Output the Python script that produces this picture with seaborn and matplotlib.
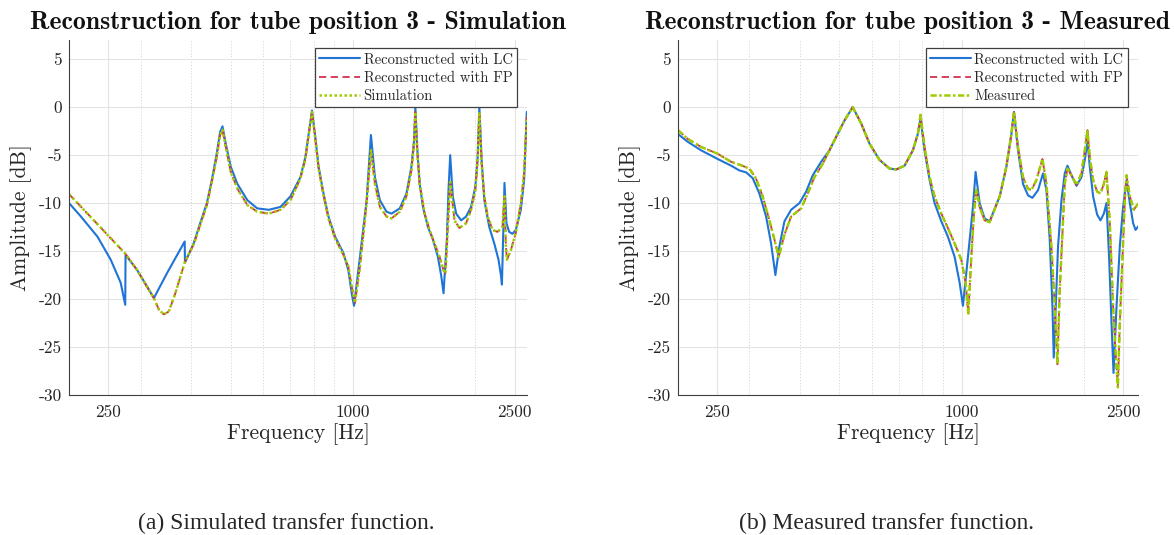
import matplotlib
matplotlib.use("Agg")
import matplotlib.pyplot as plt
import matplotlib.ticker as mticker
from matplotlib.lines import Line2D
import pandas as pd
import seaborn as sns

# ---------------- data ----------------
# (a) simulation panel
sim_lc_freq = [200, 213.9, 235, 253.3, 268, 275.0, 275.5, 294.4, 311.3, 323.5, 348.5, 385.2, 385.8,
               405.3, 420.5, 436.8, 449.2, 462, 470.8, 477.2, 486.1, 500, 519.2, 549.4, 581, 620.5,
               662.8, 701.3, 742.1, 763.2, 777.6, 792.5, 807.4, 822.6, 846, 869.9, 903.6, 946.8,
               973.8, 992.5, 1005.6, 1040, 1080, 1106.6, 1132, 1164.3, 1209, 1243.2, 1303.2, 1353.3,
               1392.1, 1412.8, 1423.6, 1439.8, 1458.8, 1486.2, 1528.6, 1572.5, 1617.4, 1648.6, 1670,
               1701.6, 1717.7, 1734.3, 1760, 1794, 1845, 1897.6, 1951.8, 2000, 2026, 2045.8, 2072.3,
               2104.3, 2164.3, 2226, 2280.4, 2311.5, 2324.8, 2345.8, 2358.8, 2385.6, 2422.2, 2467.7,
               2515.5, 2587.7, 2636.4, 2676.7]
sim_lc_db = [-10.0, -11.4, -13.5, -15.9, -18.3, -20.6, -15.4, -17.0, -18.7, -19.9, -17.3, -14.0, -16.2,
             -14.2, -12.1, -10.0, -7.6, -4.8, -2.6, -2.0, -3.8, -6.2, -8.0, -9.7, -10.55, -10.7,
             -10.4, -9.3, -7.3, -5.2, -2.8, -0.35, -3.1, -6.2, -9.0, -11.4, -13.5, -15.2,
             -17.0, -19.4, -20.7, -15.6, -9.7, -2.9, -7.3, -9.7, -10.9, -11.1, -10.55, -9.0,
             -6.2, -3.5, 0.0, -4.5, -8.0, -10.4, -12.5, -13.8, -15.6, -17.6, -19.4,
             -13.8, -8.65, -5.0, -9.3, -11.1, -11.8, -11.4, -10.4, -8.3, -5.2, 0.0, -5.5,
             -9.7, -12.5, -14.2, -15.9, -17.5, -18.5, -12.1, -7.9, -12.1, -13.0, -13.2,
             -12.8, -10.7, -7.6, -0.5]

sim_ref_freq = [200, 235, 275.5, 294.4, 311.3, 323.5, 332.7, 342.2, 352, 365.3, 385.2, 405.3, 420.5,
                436.8, 449.2, 462, 470.8, 477.2, 486.1, 500, 519.2, 549.4, 581, 620.5, 662.8, 701.3,
                742.1, 763.2, 777.6, 792.5, 807.4, 822.6, 846, 869.9, 903.6, 946.8, 973.8, 992.5,
                1011.3, 1040, 1080, 1106.6, 1132, 1164.3, 1209, 1243.2, 1303.2, 1353.3, 1392.1,
                1412.8, 1423.6, 1439.8, 1458.8, 1500.6, 1543, 1587, 1633, 1670, 1689, 1711, 1734.3,
                1776.7, 1827.4, 1897.6, 1951.8, 2000, 2026, 2045.8, 2072.3, 2104.3, 2144, 2205, 2268,
                2332.7, 2358.8, 2378, 2391.5, 2445.6, 2515.5, 2587.7, 2636.4, 2676.7]
sim_ref_db = [-9.07, -12.2, -15.3, -17.0, -18.75, -19.9, -21.1, -21.6, -21.3, -19.4, -16.2, -14.3, -12.3,
              -10.2, -7.8, -5.2, -2.9, -2.35, -4.15, -6.75, -8.5, -10.2, -10.9, -11.1, -10.7, -9.7,
              -7.45, -5.4, -2.95, -0.5, -3.3, -6.4, -9.2, -11.6, -13.7, -15.4, -16.6, -18.7,
              -20.4, -16.6, -10.0, -4.5, -8.0, -10.4, -11.4, -11.6, -10.9, -9.3, -6.6,
              -3.8, -0.5, -4.85, -8.0, -11.1, -12.8, -14.2, -15.6, -17.0, -17.3, -12.5, -7.8,
              -11.8, -12.6, -12.1, -10.7, -8.65, -5.5, -0.5, -5.9, -9.3, -11.4, -12.8, -13.0,
              -12.5, -9.3, -14.5, -15.9, -14.9, -13.1, -10.0, -6.9, -1.0]
sim_fp_db = sim_ref_db  # FP reconstruction sits on top of the simulation

# (b) measured panel
meas_lc_freq = [200, 211.2, 228, 250.4, 270.3, 283.4, 294.4, 305.6, 317.4, 329.7, 339.2, 347.6, 355.6,
                365.9, 380, 398.5, 413.9, 429.7, 450.6, 472.4, 490.7, 514.3, 539.1, 565.6, 592.9,
                627.6, 664.3, 690, 723.6, 758.4, 780, 792.1, 810.2, 834, 857.7, 891.2, 925.1, 961,
                988.8, 1007.6, 1036.6, 1066.4, 1082.7, 1107.6, 1139.5, 1172.3, 1241.3, 1289.3, 1326.4,
                1346.1, 1377.1, 1416.7, 1457.7, 1494.4, 1543, 1587.3, 1618.2, 1648.7, 1674.3, 1686.7,
                1705.9, 1728.4, 1762.2, 1795.4, 1823.3, 1865.3, 1918.9, 1974.1, 2011.7, 2042.5,
                2069.5, 2108.9, 2157.5, 2199.2, 2241.1, 2275.1, 2309, 2341, 2367.7, 2408.4, 2453.8,
                2500.4, 2549.2, 2597.3, 2646.8, 2683, 2738.7]
meas_lc_db = [-2.8, -3.6, -4.5, -5.4, -6.1, -6.6, -6.8, -7.4, -9.0, -11.4, -14.2, -17.5, -14.5,
              -11.9, -10.7, -10.0, -8.8, -7.1, -5.7, -4.5, -3.1, -1.4, 0.0, -1.7, -3.8,
              -5.5, -6.4, -6.5, -6.1, -4.5, -2.8, -1.2, -4.5, -7.6, -10.0, -11.9, -13.5, -15.6,
              -18.3, -20.7, -15.6, -10.4, -6.75, -10.0, -11.6, -11.9, -9.3, -6.2, -2.8,
              -0.5, -4.5, -8.0, -9.2, -9.45, -8.65, -6.9, -8.65, -13.8, -20.8, -26.1,
              -20.8, -14.5, -9.7, -6.9, -6.1, -7.1, -8.2, -7.3, -5.5, -3.5,
              -6.2, -9.3, -11.2, -11.8, -11.1, -10.0, -15.6, -22.5, -27.7, -20.8, -14.5,
              -10.4, -7.6, -10.0, -12.1, -12.8, -12.3]

meas_ref_freq = [200, 211.2, 228, 250.4, 270.3, 285.9, 299.8, 311.5, 323.4, 336, 345.7, 354.2, 365.9,
                 380, 402.3, 417.7, 433.8, 454.9, 472.4, 490.7, 514.3, 539.1, 565.6, 592.9, 627.6,
                 664.3, 690, 723.6, 758.4, 780, 792.1, 810.2, 834, 857.7, 891.2, 925.1, 961, 998,
                 1023, 1038.7, 1056.6, 1072.4, 1086.9, 1107.6, 1139.5, 1172.3, 1241.3, 1289.3, 1326.4,
                 1346.1, 1377.1, 1416.7, 1457.7, 1485.9, 1528.8, 1581.8, 1618.2, 1664.6, 1696.5,
                 1722.4, 1745.1, 1772.2, 1795.4, 1823.3, 1865.3, 1918.9, 1974.1, 2011.7, 2042.5,
                 2069.5, 2108.9, 2157.5, 2199.2, 2241.1, 2275.1, 2318.6, 2362.6, 2399, 2426.7, 2453.8,
                 2491.8, 2524.7, 2549.2, 2597.3, 2657, 2707, 2738.7]
meas_ref_db = [-2.4, -3.3, -4.15, -4.85, -5.7, -6.05, -6.4, -7.45, -9.3, -11.8, -13.8, -15.6, -13.3,
               -11.4, -10.55, -9.0, -7.3, -5.9, -4.5, -3.1, -1.4, 0.0, -1.7, -3.8, -5.5,
               -6.4, -6.5, -6.1, -4.5, -2.8, -0.8, -4.15, -7.3, -9.3, -11.1, -12.6, -14.2, -15.9,
               -18.3, -21.5, -15.6, -11.1, -8.5, -10.4, -11.8, -12.0, -9.3, -6.2, -2.8,
               -0.45, -4.15, -7.3, -8.5, -8.65, -7.6, -5.4, -8.0, -14.5, -20.8,
               -26.8, -19.0, -13.1, -8.0, -6.4, -7.1, -8.1, -6.9, -4.5, -2.4,
               -5.2, -7.6, -8.8, -9.0, -8.0, -6.75, -12.1, -20.8, -26.0, -29.2, -22.5,
               -15.6, -9.7, -7.1, -9.3, -10.7, -10.2, -10.0]
meas_fp_db = meas_ref_db

x_ticks = [250, 1000, 2500]
x_minor = [200, 300, 400, 500, 600, 700, 800, 900, 2000]
y_ticks = [-30, -25, -20, -15, -10, -5, 0, 5]

blue = "#1f74d6"
red = "#d1304f"
green = "#9fcc00"

sns.set_style("white")
plt.rcParams["font.family"] = ["cmr10", "DejaVu Serif"]
plt.rcParams["axes.unicode_minus"] = False
plt.rcParams["axes.formatter.use_mathtext"] = True

fig = plt.figure(figsize=(11.74, 5.35), dpi=100)
ax1 = fig.add_axes([0.0588, 0.2617, 0.3901, 0.6636])
ax2 = fig.add_axes([0.5775, 0.2617, 0.3918, 0.6636])


def draw(ax, lc_f, lc_db, ref_f, fp_db, ref_db, ref_name, ref_dash, title, xmax):
    df_lc = pd.DataFrame({"f": lc_f, "db": lc_db})
    df_ref = pd.DataFrame({"f": ref_f, "fp": fp_db, "ref": ref_db})
    sns.lineplot(data=df_lc, x="f", y="db", ax=ax, color=blue, lw=1.5, sort=False, estimator=None)
    sns.lineplot(data=df_ref, x="f", y="fp", ax=ax, color=red, lw=1.3, sort=False, estimator=None,
                 dashes=False, linestyle=(0, (4, 2.5)))
    sns.lineplot(data=df_ref, x="f", y="ref", ax=ax, color=green, lw=1.8, sort=False, estimator=None,
                 linestyle=ref_dash)

    ax.set_xscale("log")
    ax.set_xlim(200, xmax)
    ax.set_ylim(-30, 7)
    ax.xaxis.set_major_locator(mticker.FixedLocator(x_ticks))
    ax.xaxis.set_major_formatter(mticker.FixedFormatter([str(t) for t in x_ticks]))
    ax.xaxis.set_minor_locator(mticker.FixedLocator(x_minor))
    ax.xaxis.set_minor_formatter(mticker.NullFormatter())
    ax.set_yticks(y_ticks)
    ax.set_yticklabels([str(t) for t in y_ticks])

    ax.grid(True, which="major", color="#e3e3e3", lw=0.8)
    ax.grid(True, which="minor", axis="x", color="#d0d0d0", lw=0.7, ls=(0, (1, 2)))
    ax.set_axisbelow(True)
    for s in ["top", "right"]:
        ax.spines[s].set_visible(False)
    for s in ["left", "bottom"]:
        ax.spines[s].set_color("#404040")
        ax.spines[s].set_linewidth(0.8)
    ax.tick_params(which="both", direction="in", color="#404040", labelsize=12.5,
                   labelcolor="#262626", length=4, width=0.7)
    ax.tick_params(which="minor", length=2.5)
    ax.tick_params(axis="y", pad=5)
    ax.tick_params(axis="x", pad=7)

    ax.set_xlabel("Frequency [Hz]", fontsize=15.5, color="#262626", labelpad=2)
    ax.set_ylabel("Amplitude [dB]", fontsize=15.5, color="#262626", labelpad=5)
    ax.set_title(title, fontsize=18.5, family="cmb10", color="#111111", pad=8)

    handles = [Line2D([], [], color=blue, lw=1.5),
               Line2D([], [], color=red, lw=1.3, linestyle=(0, (4, 2.5))),
               Line2D([], [], color=green, lw=1.8, linestyle=ref_dash)]
    leg = ax.legend(handles, ["Reconstructed with LC", "Reconstructed with FP", ref_name],
                    loc="upper right", bbox_to_anchor=(0.978, 0.976), fontsize=10.5,
                    frameon=True, fancybox=False, framealpha=1, edgecolor="#404040",
                    handlelength=2.8, handletextpad=0.25, labelspacing=0.3,
                    borderpad=0.3, borderaxespad=0)
    leg.get_frame().set_linewidth(0.9)


draw(ax1, sim_lc_freq, sim_lc_db, sim_ref_freq, sim_fp_db, sim_ref_db, "Simulation",
     (0, (1, 1)), "Reconstruction for tube position 3 - Simulation", 2680)
draw(ax2, meas_lc_freq, meas_lc_db, meas_ref_freq, meas_fp_db, meas_ref_db, "Measured",
     (0, (2.5, 1, 1, 1)), "Reconstruction for tube position 3 - Measured", 2720)

fig.text(0.2440, 0.012, "(a) Simulated transfer function.", family="Liberation Serif",
         fontsize=17, ha="center", va="baseline")
fig.text(0.7555, 0.012, "(b) Measured transfer function.", family="Liberation Serif",
         fontsize=17, ha="center", va="baseline")

fig.savefig("out.png", dpi=100)
